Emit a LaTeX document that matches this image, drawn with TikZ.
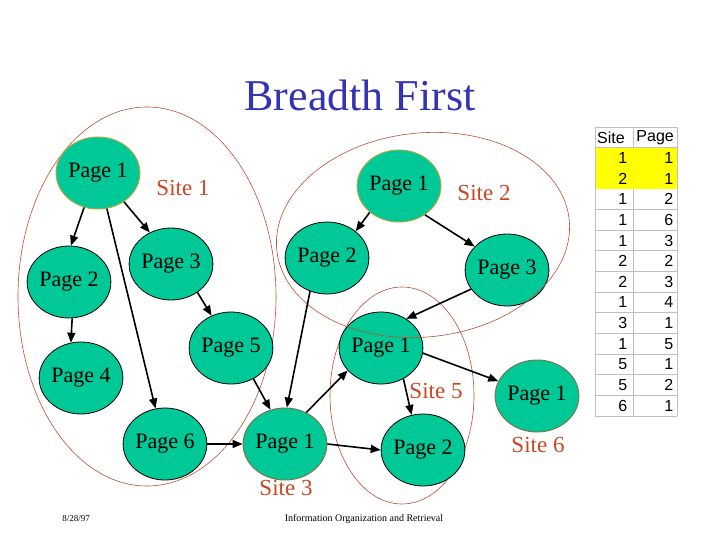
\documentclass[tikz,border=0pt]{standalone}
\usepackage{fontspec}
\setmainfont{Liberation Serif}
\newfontfamily\tabfont{Liberation Sans}
\usetikzlibrary{shapes.geometric,arrows.meta}
\definecolor{nodefill}{RGB}{0,200,150}
\definecolor{seedborder}{RGB}{170,170,70}
\definecolor{rootborder}{RGB}{120,120,80}
\definecolor{siteline}{RGB}{185,80,50}
\definecolor{sitetext}{RGB}{204,70,35}
\definecolor{titleblue}{RGB}{51,51,180}
\definecolor{gridgray}{RGB}{192,192,192}
\definecolor{hiyellow}{RGB}{255,255,0}
\tikzset{
  pagenode/.style={ellipse,draw=black,line width=0.8pt,fill=nodefill,minimum width=78,minimum height=72,inner sep=0pt,font=\fontsize{22}{24}\selectfont},
  seednode/.style={pagenode,draw=seedborder,line width=1pt},
  rootnode/.style={pagenode,draw=rootborder,line width=1pt},
  sitelabel/.style={text=sitetext,font=\fontsize{23}{25}\selectfont,inner sep=0pt},
  siteoval/.style={draw=siteline,line width=0.6pt},
  link/.style={line width=1.6pt,-{Triangle[length=10pt,width=8pt]}},
  tabtext/.style={font=\tabfont\fontsize{16}{18}\selectfont,inner sep=0pt},
  footer/.style={font=\fontsize{9}{10}\selectfont,inner sep=0pt}
}
\begin{document}
\begin{tikzpicture}[x=1pt,y=-1pt]
\useasboundingbox (0,0) rectangle (720,540);
\fill[white] (0,0) rectangle (720,540);
% title
\node[text=titleblue,font=\fontsize{44}{48}\selectfont,inner sep=0pt] (title) at (360,95) {Breadth First};
% site ovals behind
\draw[siteoval] (147,296.5) ellipse [x radius=129,y radius=189.5];
\draw[siteoval] (402,395.5) ellipse [x radius=72,y radius=108.5];
% nodes
\node[seednode] (a1) at (98,173) {Page 1};
\node[pagenode] (a2) at (69,282) {Page 2};
\node[pagenode] (a3) at (171,264) {Page 3};
\node[pagenode] (a4) at (81,378) {Page 4};
\node[pagenode] (a5) at (231,348) {Page 5};
\node[pagenode] (a6) at (165,444) {Page 6};
\node[seednode] (b1) at (399,186) {Page 1};
\node[pagenode] (b2) at (327,258) {Page 2};
\node[pagenode] (b3) at (507,270) {Page 3};
\node[rootnode] (c1) at (285,444) {Page 1};
\node[pagenode] (e1) at (381,348) {Page 1};
\node[pagenode] (e2) at (423,450) {Page 2};
\node[rootnode] (f1) at (537,396) {Page 1};
% site 2 oval on top
\draw[siteoval,rotate around={6:(423,235)}] (423,235) ellipse [x radius=147,y radius=102];
% site labels
\node[sitelabel] (s1) at (183,188) {Site 1};
\node[sitelabel] (s2) at (484,193) {Site 2};
\node[sitelabel] (s3) at (286,488) {Site 3};
\node[sitelabel] (s5) at (436,391) {Site 5};
\node[sitelabel] (s6) at (538,445) {Site 6};
% links
\draw[link] (a1.248) -- (a2.87);
\draw[link] (a1.312) -- (a3.124);
\draw[link] (a1.284) -- (a6.105);
\draw[link] (a2.275) -- (a4.106);
\draw[link] (a3.313) -- (a5.121);
\draw[link] (a5.306) -- (c1.113);
\draw[link] (a6.east) -- (c1.west);
\draw[link] (b1.222) -- (b2.43);
\draw[link] (b1.312) -- (b3.144);
\draw[link] (b2.243) -- (c1.87);
\draw[link] (b3.208) -- (e1.49);
\draw[link] (c1.56) -- (e1.214);
\draw[link] (c1.east) -- (e2.west);
\draw[link] (e1.306) -- (e2.108);
\draw[link] (e1.353) -- (f1.159);
% table
\fill[hiyellow] (595,147.64) rectangle (677,188.93);
\foreach \i in {0,1,4,5,6,7,8,9,10,11,12,13,14} {
  \draw[gridgray,line width=0.8pt] (595,127+20.643*\i) -- (677,127+20.643*\i);
}
\draw[gridgray,line width=0.8pt] (595,127) -- (595,416);
\draw[gridgray,line width=0.8pt] (677,127) -- (677,416);
\draw[gridgray,line width=0.8pt] (633,127) -- (633,147.64);
\draw[gridgray,line width=0.8pt] (633,188.93) -- (633,416);
\node[tabtext,anchor=west] (hs) at (597,137.3) {Site};
\node[tabtext,anchor=east] (hp) at (674,137.3) {Page};
\foreach \s/\p [count=\k] in {1/1,2/1,1/2,1/6,1/3,2/2,2/3,1/4,3/1,1/5,5/1,5/2,6/1} {
  \node[tabtext,anchor=east] (ts\k) at (627.5,137.3+20.643*\k) {\s};
  \node[tabtext,anchor=east] (tp\k) at (673.5,137.3+20.643*\k) {\p};
}
% footer
\node[footer] (date) at (76,519) {8/28/97};
\node[footer,font=\fontsize{10}{11}\selectfont] (course) at (364,519) {Information Organization and Retrieval};
\end{tikzpicture}
\end{document}
